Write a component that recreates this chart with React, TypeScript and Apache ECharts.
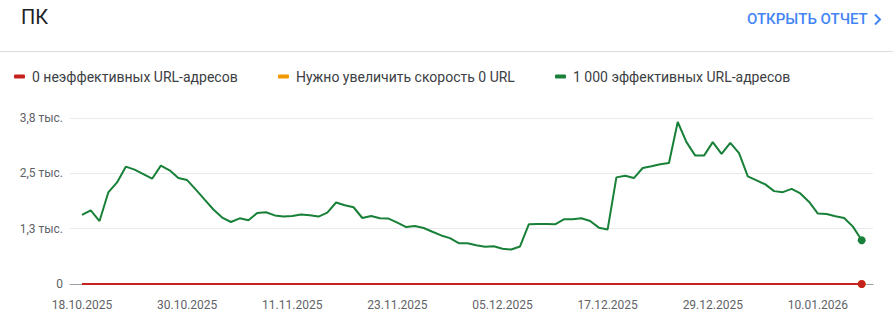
import React, { useEffect, useRef } from "react";
import * as echarts from "echarts";

const startDate = "18.10.2025";
const tickDays = [0, 12, 24, 36, 48, 60, 72, 84];
const tickLabels = [
  "18.10.2025",
  "30.10.2025",
  "11.11.2025",
  "23.11.2025",
  "05.12.2025",
  "17.12.2025",
  "29.12.2025",
  "10.01.2026",
];

const legendNames = [
  "0 неэффективных URL-адресов",
  "Нужно увеличить скорость 0 URL",
  "1 000 эффективных URL-адресов",
];

const goodValues = [
  1580, 1688, 1442, 2096, 2326, 2686, 2617, 2517, 2410, 2709,
  2602, 2425, 2379, 2160, 1930, 1705, 1520, 1419, 1504, 1458,
  1626, 1642, 1570, 1543, 1557, 1589, 1573, 1543, 1635, 1865,
  1803, 1757, 1511, 1557, 1504, 1497, 1405, 1304, 1327, 1281,
  1197, 1112, 1050, 935, 935, 885, 855, 866, 806, 790,
  859, 1366, 1373, 1373, 1366, 1481, 1481, 1504, 1442, 1290,
  1250, 2441, 2478, 2425, 2655, 2694, 2740, 2771, 3708, 3247,
  2939, 2939, 3247, 2978, 3231, 2994, 2464, 2372, 2280, 2126,
  2103, 2179, 2073, 1879, 1612, 1603, 1550, 1511, 1313, 1000,
];

const needsImprovementValues = goodValues.map(() => 0);
const poorValues = goodValues.map(() => 0);

const yMax = 3800;

const COLORS = {
  poor: "#c5221f",
  ni: "#f29900",
  good: "#188038",
};

function toSeriesData(values: number[]) {
  const last = values.length - 1;
  return values.map((v, i) =>
    i === last
      ? { value: [i, v], symbol: "circle", symbolSize: 8 }
      : { value: [i, v] }
  );
}

function yLabel(v: number) {
  if (Math.abs(v) < 1e-6) return "0";
  return (v / 1000).toFixed(1).replace(".", ",") + " тыс.";
}

export default function App() {
  const ref = useRef<HTMLDivElement>(null);

  useEffect(() => {
    if (!ref.current) return;
    const chart = echarts.init(ref.current, undefined, { renderer: "svg" });
    const font = "Roboto";
    const legendBase = {
      top: 69.5,
      padding: 0,
      itemWidth: 11,
      itemHeight: 4,
      icon: "roundRect",
      selectedMode: false,
      textStyle: {
        fontFamily: font,
        fontSize: 14,
        color: "#3c4043",
        padding: [0, 0, 0, 2],
      },
    };
    chart.setOption({
      animation: false,
      backgroundColor: "#ffffff",
      textStyle: { fontFamily: font },
      graphic: [
        {
          type: "text",
          left: 21,
          top: 7,
          style: {
            text: "ПК",
            fontFamily: font,
            fontSize: 20,
            fill: "#202124",
          },
        },
        {
          type: "text",
          left: 747,
          top: 11,
          style: {
            text: "ОТКРЫТЬ ОТЧЕТ",
            fontFamily: font,
            fontSize: 15,
            fontWeight: 500,
            fill: "#4285f4",
          },
        },
        {
          type: "polyline",
          shape: { points: [[875, 14.5], [880, 19.5], [875, 24.5]] },
          style: { stroke: "#4285f4", lineWidth: 2, fill: "none" },
        },
        {
          type: "line",
          shape: { x1: 0, y1: 51.5, x2: 893, y2: 51.5 },
          style: { stroke: "#dadce0", lineWidth: 1 },
        },
      ],
      legend: [
        { ...legendBase, left: 14, data: [legendNames[0]] },
        { ...legendBase, left: 278, data: [legendNames[1]] },
        { ...legendBase, left: 555, data: [legendNames[2]] },
      ],
      grid: { left: 70, right: 20, top: 118, bottom: 43 },
      xAxis: {
        type: "value",
        min: -1.37,
        max: 90.29,
        axisLine: { show: true, lineStyle: { color: "#9aa0a6", width: 1 } },
        axisTick: { show: false },
        splitLine: { show: false },
        axisLabel: {
          customValues: tickDays,
          formatter: (v: number) => {
            const idx = tickDays.indexOf(Math.round(v));
            return idx >= 0 ? tickLabels[idx] : "";
          },
          fontFamily: font,
          fontSize: 12,
          color: "#5f6368",
          margin: 15,
        },
      },
      yAxis: {
        type: "value",
        min: 0,
        max: yMax,
        interval: yMax / 3,
        axisLine: { show: false },
        axisTick: { show: false },
        splitLine: { lineStyle: { color: "#e8eaed", width: 1 } },
        axisLabel: {
          formatter: yLabel,
          fontFamily: font,
          fontSize: 12,
          color: "#5f6368",
          margin: 7,
        },
      },
      series: [
        {
          name: legendNames[2],
          type: "line",
          data: toSeriesData(goodValues),
          symbol: "none",
          showSymbol: true,
          lineStyle: { color: COLORS.good, width: 2 },
          itemStyle: { color: COLORS.good },
          z: 3,
        },
        {
          name: legendNames[1],
          type: "line",
          data: toSeriesData(needsImprovementValues),
          symbol: "none",
          showSymbol: true,
          lineStyle: { color: COLORS.ni, width: 2 },
          itemStyle: { color: COLORS.ni },
          z: 4,
        },
        {
          name: legendNames[0],
          type: "line",
          data: toSeriesData(poorValues),
          symbol: "none",
          showSymbol: true,
          lineStyle: { color: COLORS.poor, width: 2 },
          itemStyle: { color: COLORS.poor },
          z: 5,
        },
      ],
    });
    return () => chart.dispose();
  }, []);

  return (
    <div
      ref={ref}
      data-start={startDate}
      style={{ position: "absolute", left: 0, top: 0, width: 893, height: 327 }}
    />
  );
}
